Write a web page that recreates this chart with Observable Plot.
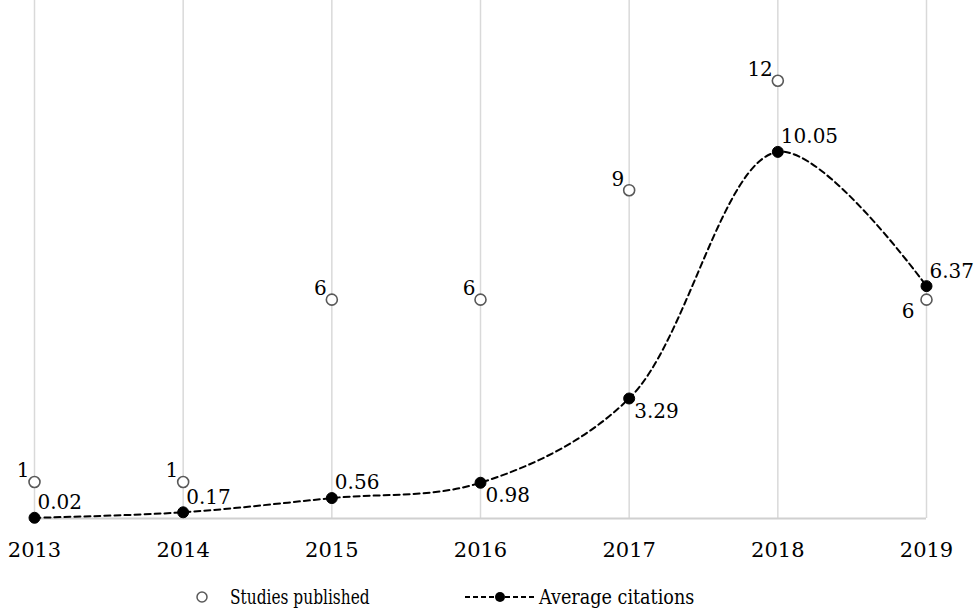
<!DOCTYPE html>
<html>
<head>
<meta charset="utf-8">
<script src="https://cdn.jsdelivr.net/npm/d3@7"></script>
<script src="https://cdn.jsdelivr.net/npm/@observablehq/plot@0.6"></script>
<style>
  body { margin: 0; background: #fff; }
  #wrap { position: relative; width: 974px; height: 610px; font-family: "DejaVu Serif", serif; overflow: hidden; }
  #wrap svg text { font-family: "DejaVu Serif", serif; }
  #legend { position: absolute; left: 0; top: 580px; width: 974px; height: 30px; font-size: 20px; color: #000; }
  #legend .item { position: absolute; top: 0; display: flex; align-items: center; height: 34px; }
  #legend .lbl { display: inline-block; transform-origin: left center; white-space: nowrap; }
</style>
</head>
<body>
<div id="wrap">
  <div id="chart"></div>
  <div id="legend"></div>
</div>
<script>
const years = [2013, 2014, 2015, 2016, 2017, 2018, 2019];
const studiesPublished = [1, 1, 6, 6, 9, 12, 6];
const averageCitations = [0.02, 0.17, 0.56, 0.98, 3.29, 10.05, 6.37];
const seriesNames = ["Studies published", "Average citations"];

const studies = years.map((y, i) => ({year: y, value: studiesPublished[i]}));
const cites = years.map((y, i) => ({year: y, value: averageCitations[i]}));

const lastYear = years[years.length - 1];
const citesBelow = new Set([2016, 2017]);

const fnt = "'DejaVu Serif', serif";
const plot = Plot.plot({
  width: 974,
  height: 570,
  marginLeft: 34,
  marginRight: 48,
  marginTop: 0,
  marginBottom: 52,
  style: {fontFamily: fnt, fontSize: "20px", background: "#fff", color: "#000", overflow: "visible"},
  x: {domain: [years[0], lastYear], axis: null},
  y: {domain: [0, 14.2], axis: null},
  marks: [
    Plot.ruleX(years, {x: d => d, y1: 0, y2: 14.2, stroke: "#d9d9d9", strokeWidth: 1.5}),
    Plot.ruleY([0], {stroke: "#d0d0d0", strokeWidth: 2}),
    Plot.text(years, {x: d => d, y: 0, text: d => String(d), dy: 32, fontSize: 21, fill: "#000"}),
    Plot.line(cites, {x: "year", y: "value", curve: "catmull-rom", stroke: "#000", strokeWidth: 2, strokeDasharray: "6,4"}),
    Plot.dot(cites, {x: "year", y: "value", r: 5.5, fill: "#000", stroke: "#000", strokeWidth: 1}),
    Plot.dot(studies, {x: "year", y: "value", r: 5.5, fill: "#fff", stroke: "#595959", strokeWidth: 1.6}),
    Plot.text(studies.filter(d => d.year !== lastYear), {x: "year", y: "value", text: d => String(d.value), textAnchor: "end", dx: -5, dy: -11, fontSize: 20, fill: "#000"}),
    Plot.text(studies.filter(d => d.year === lastYear), {x: "year", y: "value", text: d => String(d.value), textAnchor: "end", dx: -12, dy: 12, fontSize: 20, fill: "#000"}),
    Plot.text(cites.filter(d => !citesBelow.has(d.year)), {x: "year", y: "value", text: d => d.value.toFixed(2), textAnchor: "start", dx: 3, dy: -15, fontSize: 20, fill: "#000"}),
    Plot.text(cites.filter(d => citesBelow.has(d.year)), {x: "year", y: "value", text: d => d.value.toFixed(2), textAnchor: "start", dx: 5, dy: 13, fontSize: 20, fill: "#000"})
  ]
});
document.getElementById("chart").appendChild(plot);

const legend = document.getElementById("legend");
legend.innerHTML = `
  <div class="item" style="left:194px">
    <svg width="16" height="16"><circle cx="8" cy="8" r="5" fill="#fff" stroke="#595959" stroke-width="1.5"/></svg>
    <span class="lbl" style="margin-left:20px;transform:scaleX(0.77)">${seriesNames[0]}</span>
  </div>
  <div class="item" style="left:465px">
    <svg width="72" height="16"><line x1="0" y1="8" x2="70" y2="8" stroke="#000" stroke-width="2" stroke-dasharray="5,3"/><circle cx="35" cy="8" r="5" fill="#000"/></svg>
    <span class="lbl" style="margin-left:2px;transform:scaleX(0.88)">${seriesNames[1]}</span>
  </div>`;
</script>
</body>
</html>
